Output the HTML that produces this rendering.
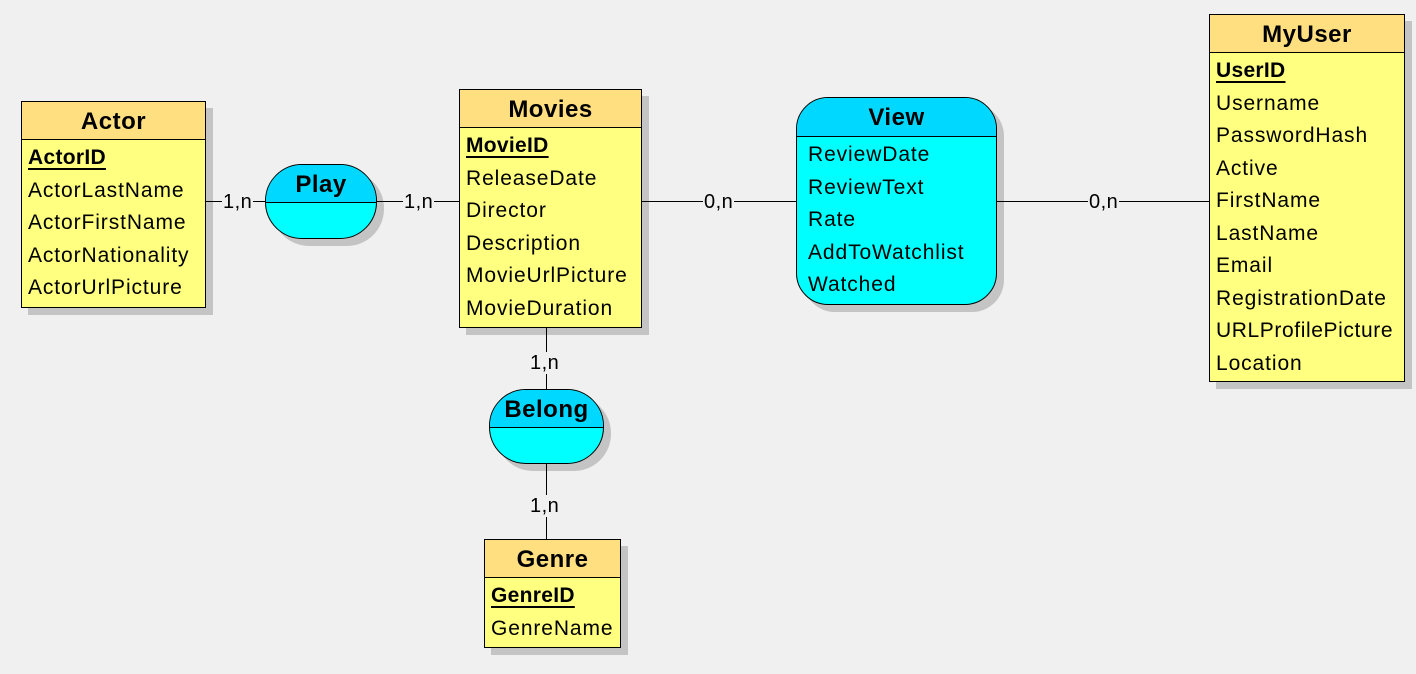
<!DOCTYPE html>
<html><head><meta charset="utf-8"><style>
body{margin:0;width:1416px;height:674px;background:#f0f0f0;position:relative;overflow:hidden;font-family:"Liberation Sans",sans-serif;color:#000}
.e{position:absolute;background:#ffff80;border:1px solid #000;box-shadow:7px 7px 0 #c4c4c4;box-sizing:border-box}
.h{background:#ffdf80;border-bottom:1px solid #000;height:37px;line-height:39px;text-align:center;font-weight:bold;font-size:24px;letter-spacing:0.5px}
.r{height:32.5px;line-height:36px;font-size:21px;padding-left:6px;white-space:nowrap;letter-spacing:0.9px}
.k{font-weight:bold;letter-spacing:0.3px}.k span{text-decoration:underline;text-underline-offset:4px}
.a{position:absolute;background:#00ffff;border:1px solid #000;box-shadow:7px 7px 0 #c4c4c4;box-sizing:border-box;overflow:hidden}
.a .h{background:#00d8ff}
.l{position:absolute;background:#000;z-index:5}
.c{position:absolute;font-size:20px;background:#f0f0f0;line-height:22px;padding:0 1px;z-index:6;letter-spacing:0.5px}
</style></head><body>
<div class="l" style="left:205px;top:201px;width:61px;height:1px"></div>
<div class="l" style="left:376px;top:201px;width:84px;height:1px"></div>
<div class="l" style="left:641px;top:201px;width:156px;height:1px"></div>
<div class="l" style="left:996px;top:201px;width:213px;height:1px"></div>
<div class="l" style="left:546px;top:327px;width:1px;height:63px"></div>
<div class="l" style="left:546px;top:463px;width:1px;height:77px"></div>

<div class="c" style="left:222px;top:191px">1,n</div>
<div class="c" style="left:403px;top:191px">1,n</div>
<div class="c" style="left:703px;top:191px">0,n</div>
<div class="c" style="left:1088px;top:191px">0,n</div>
<div class="c" style="left:529px;top:352px">1,n</div>
<div class="c" style="left:529px;top:495px">1,n</div>

<div class="e" style="left:21px;top:101px;width:185px;height:207px">
<div class="h">Actor</div>
<div class="r k"><span>ActorID</span></div><div class="r">ActorLastName</div><div class="r">ActorFirstName</div><div class="r">ActorNationality</div><div class="r">ActorUrlPicture</div>
</div>

<div class="a" style="left:265px;top:164px;width:112px;height:75px;border-radius:37px">
<div class="h">Play</div></div>

<div class="e" style="left:459px;top:89px;width:183px;height:239px">
<div class="h">Movies</div>
<div class="r k"><span>MovieID</span></div><div class="r">ReleaseDate</div><div class="r">Director</div><div class="r">Description</div><div class="r">MovieUrlPicture</div><div class="r">MovieDuration</div>
</div>

<div class="a" style="left:796px;top:97px;width:201px;height:208px;border-radius:32px">
<div class="h" style="height:38px;line-height:40px">View</div>
<div class="r" style="padding-left:11px">ReviewDate</div><div class="r" style="padding-left:11px">ReviewText</div><div class="r" style="padding-left:11px">Rate</div><div class="r" style="padding-left:11px">AddToWatchlist</div><div class="r" style="padding-left:11px">Watched</div>
</div>

<div class="e" style="left:1209px;top:14px;width:196px;height:368px">
<div class="h">MyUser</div>
<div class="r k"><span>UserID</span></div><div class="r">Username</div><div class="r">PasswordHash</div><div class="r">Active</div><div class="r">FirstName</div><div class="r">LastName</div><div class="r">Email</div><div class="r">RegistrationDate</div><div class="r" style="letter-spacing:0.6px">URLProfilePicture</div><div class="r">Location</div>
</div>

<div class="a" style="left:489px;top:389px;width:115px;height:75px;border-radius:37px">
<div class="h">Belong</div></div>

<div class="e" style="left:484px;top:539px;width:137px;height:109px">
<div class="h">Genre</div>
<div class="r k"><span>GenreID</span></div><div class="r">GenreName</div>
</div>
</body></html>
